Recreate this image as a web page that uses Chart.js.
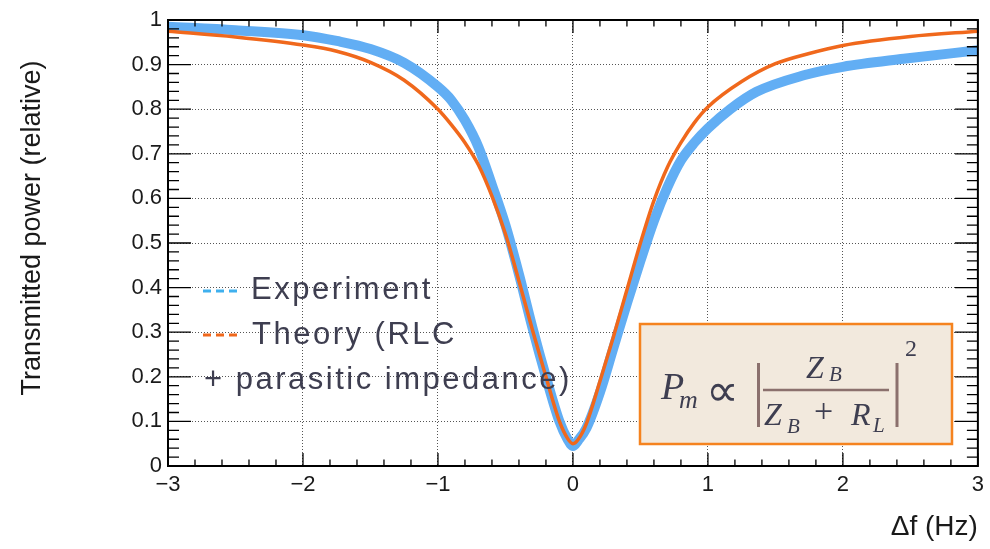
<!DOCTYPE html>
<html>
<head>
<meta charset="utf-8">
<script src="https://cdn.jsdelivr.net/npm/chart.js@4.4.1/dist/chart.umd.min.js"></script>
<style>
  html, body { margin: 0; padding: 0; background: #fff; }
  #wrap { width: 990px; height: 549px; }
</style>
</head>
<body>
<div id="wrap"><canvas id="resonance"></canvas></div>
<script>
// frequency offsets (Hz) and relative transmitted power
var theoryF = [-3, -2.5, -2, -1.75, -1.5, -1.25, -1, -0.9, -0.8, -0.7, -0.6, -0.5, -0.4, -0.3, -0.2, -0.1, -0.04, 0,
               0.04, 0.1, 0.2, 0.3, 0.4, 0.5, 0.6, 0.7, 0.8, 0.9, 1, 1.25, 1.5, 1.75, 2, 2.5, 3];
var theoryP = [0.975, 0.962, 0.944, 0.93, 0.905, 0.865, 0.80, 0.765, 0.725, 0.675, 0.605, 0.52, 0.415, 0.305, 0.20, 0.10, 0.062, 0.05,
               0.06, 0.095, 0.19, 0.29, 0.395, 0.50, 0.595, 0.67, 0.725, 0.77, 0.805, 0.862, 0.902, 0.925, 0.943, 0.963, 0.975];

var expF = [-3, -2.5, -2, -1.75, -1.5, -1.25, -1, -0.9, -0.8, -0.7, -0.6, -0.5, -0.4, -0.3, -0.2, -0.1, -0.04, 0,
            0.04, 0.1, 0.2, 0.3, 0.4, 0.5, 0.6, 0.7, 0.8, 0.9, 1, 1.165, 1.36, 1.71, 2, 2.45, 3];
var expP = [0.985, 0.977, 0.966, 0.953, 0.935, 0.904, 0.85, 0.82, 0.775, 0.715, 0.63, 0.54, 0.43, 0.31, 0.20, 0.10, 0.06, 0.045,
            0.058, 0.085, 0.165, 0.265, 0.365, 0.46, 0.55, 0.625, 0.685, 0.725, 0.757, 0.80, 0.839, 0.876, 0.895, 0.913, 0.932];

var xTicks = [-3, -2, -1, 0, 1, 2, 3];
var yTicks = [0, 0.1, 0.2, 0.3, 0.4, 0.5, 0.6, 0.7, 0.8, 0.9, 1];

var legendLines = ['Experiment', 'Theory (RLC', '+ parasitic impedance)'];
var yTitle = 'Transmitted power (relative)';

var blue = '#62aef4';
var orange = '#f0681c';
var inkGrey = '#3e3e50';

function toPoints(xs, ys) {
    return xs.map(function (v, i) { return {x: v, y: ys[i]}; });
}

// ROOT style frame with ticks pointing inwards on all four sides
var frameTicks = {
    id: 'frameTicks',
    afterDatasetsDraw: function (chart) {
        var ctx = chart.ctx, a = chart.chartArea;
        var xs = chart.scales.x, ys = chart.scales.y;
        ctx.save();
        ctx.strokeStyle = '#000';
        ctx.lineWidth = 1.3;
        ctx.beginPath();
        for (var i = 0; i <= 30; i++) {
            var px = xs.getPixelForValue(-3 + i * 0.2);
            var len = i % 5 === 0 ? 13 : 6.5;
            ctx.moveTo(px, a.bottom); ctx.lineTo(px, a.bottom - len);
            ctx.moveTo(px, a.top); ctx.lineTo(px, a.top + len);
        }
        for (var j = 0; j <= 50; j++) {
            var py = ys.getPixelForValue(j * 0.02);
            var l2 = j % 5 === 0 ? 23 : 11;
            ctx.moveTo(a.left, py); ctx.lineTo(a.left + l2, py);
            ctx.moveTo(a.right, py); ctx.lineTo(a.right - l2, py);
        }
        ctx.stroke();
        ctx.lineWidth = 2;
        ctx.strokeRect(a.left, a.top, a.right - a.left, a.bottom - a.top);
        ctx.restore();
    }
};

function dashMarker(ctx, x, y, color) {
    ctx.fillStyle = color;
    for (var k = 0; k < 3; k++) {
        ctx.fillRect(x + k * 13, y - 1.5, 8, 3);
    }
}

// y title, legend + formula box drawn on top
var annotations = {
    id: 'annotations',
    afterDraw: function (chart) {
        var ctx = chart.ctx;
        ctx.save();

        // y axis title (sits a bit above the middle of the frame)
        ctx.save();
        ctx.translate(33, 228);
        ctx.rotate(-Math.PI / 2);
        ctx.fillStyle = '#1a1a1a';
        ctx.font = '27px "Liberation Sans", Arial, sans-serif';
        ctx.textAlign = 'center';
        ctx.textBaseline = 'middle';
        ctx.fillText(yTitle, 0, 0);
        ctx.restore();

        // legend
        dashMarker(ctx, 203, 291, '#3fb0ee');
        dashMarker(ctx, 203, 335, orange);
        ctx.fillStyle = inkGrey;
        ctx.font = '31px "Liberation Sans", Arial, sans-serif';
        ctx.textBaseline = 'alphabetic';
        ctx.textAlign = 'left';
        ctx.letterSpacing = '2.5px';
        ctx.fillText(legendLines[0], 251, 299);
        ctx.fillText(legendLines[1], 252, 344);
        ctx.fillText(legendLines[2], 204, 389);
        ctx.letterSpacing = '0px';

        // formula box
        ctx.fillStyle = '#f2e9dd';
        ctx.fillRect(640, 324, 312, 120);
        ctx.strokeStyle = '#f5831f';
        ctx.lineWidth = 2.5;
        ctx.strokeRect(640, 324, 312, 120);

        var it = 'italic ', serif = '"Liberation Serif", "DejaVu Serif", serif';
        ctx.fillStyle = inkGrey;
        ctx.font = it + '38px ' + serif;
        ctx.fillText('P', 661, 399);
        ctx.font = it + '26px ' + serif;
        ctx.fillText('m', 679, 408);
        ctx.font = '46px "DejaVu Sans", sans-serif';
        ctx.fillText('\u221d', 706, 406);

        // |  fraction  |
        ctx.strokeStyle = '#8b706d';
        ctx.lineWidth = 3;
        ctx.beginPath();
        ctx.moveTo(758.5, 363); ctx.lineTo(758.5, 427);
        ctx.moveTo(897, 363); ctx.lineTo(897, 427);
        ctx.stroke();
        ctx.lineWidth = 2.5;
        ctx.beginPath();
        ctx.moveTo(763, 390); ctx.lineTo(889, 390);
        ctx.stroke();

        ctx.fillStyle = inkGrey;
        ctx.font = it + '32px ' + serif;
        ctx.fillText('Z', 806, 378);
        ctx.fillText('Z', 764, 425);
        ctx.fillText('R', 851, 425);
        ctx.font = it + '21px ' + serif;
        ctx.fillText('B', 829, 381);
        ctx.fillText('B', 787, 433);
        ctx.fillText('L', 873, 432);
        ctx.font = '34px "Liberation Serif", serif';
        ctx.fillText('+', 814, 422);
        ctx.font = '24px "Liberation Serif", serif';
        ctx.fillText('2', 905, 356);

        ctx.restore();
    }
};

var tickFont = {family: '"Liberation Sans", Arial, sans-serif', size: 22};

new Chart(document.getElementById('resonance').getContext('2d'), {
    type: 'scatter',
    data: {
        datasets: [{
            label: 'Theory (RLC + parasitic impedance)',
            data: toPoints(theoryF, theoryP),
            showLine: true,
            borderColor: orange,
            borderWidth: 3.5,
            pointRadius: 0,
            cubicInterpolationMode: 'monotone',
            order: 1
        }, {
            label: 'Experiment',
            data: toPoints(expF, expP),
            showLine: true,
            borderColor: blue,
            borderWidth: 10,
            pointRadius: 0,
            cubicInterpolationMode: 'monotone',
            clip: 6,
            order: 2
        }]
    },
    options: {
        responsive: true,
        maintainAspectRatio: false,
        animation: false,
        layout: {padding: {left: 0, right: 12, top: 20, bottom: 0}},
        plugins: {
            legend: {display: false},
            tooltip: {enabled: false}
        },
        scales: {
            x: {
                type: 'linear',
                min: -3,
                max: 3,
                afterBuildTicks: function (scale) {
                    scale.ticks = xTicks.map(function (v) { return {value: v}; });
                },
                afterFit: function (scale) { scale.height = 83; },
                grid: {color: '#555', lineWidth: 1, drawTicks: false},
                border: {display: false, dash: [1, 2]},
                ticks: {
                    font: tickFont,
                    color: '#1a1a1a',
                    padding: 6,
                    maxRotation: 0,
                    callback: function (v) { return String(v).replace('-', '\u2212'); }
                },
                title: {
                    display: true,
                    text: '\u0394f (Hz)',
                    align: 'end',
                    color: '#1a1a1a',
                    font: {family: '"Liberation Sans", Arial, sans-serif', size: 28},
                    padding: {top: 0, bottom: 5}
                }
            },
            y: {
                min: 0,
                max: 1,
                afterBuildTicks: function (scale) {
                    scale.ticks = yTicks.map(function (v) { return {value: v}; });
                },
                afterFit: function (scale) { scale.width = 168; },
                grid: {color: '#555', lineWidth: 1, drawTicks: false},
                border: {display: false, dash: [1, 2]},
                ticks: {
                    font: tickFont,
                    color: '#1a1a1a',
                    padding: 6,
                    callback: function (v) { return (v === 0 || v === 1) ? String(v) : v.toFixed(1); }
                },
                title: {display: false}
            }
        }
    },
    plugins: [frameTicks, annotations]
});
</script>
</body>
</html>
